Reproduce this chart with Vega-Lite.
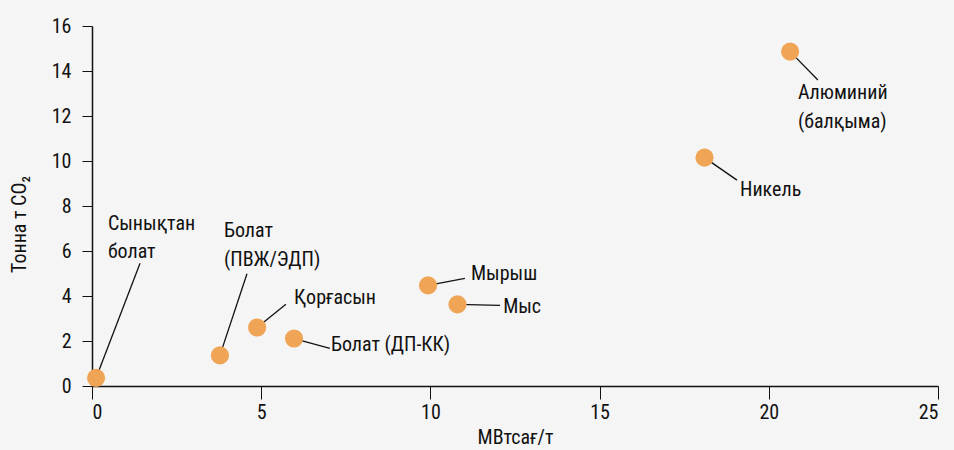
{
  "$schema": "https://vega.github.io/schema/vega-lite/v6.json",
  "width": 846,
  "height": 360,
  "autosize": {"type": "none"},
  "padding": {"left": 92, "top": 26, "right": 16, "bottom": 64},
  "background": "#f5f5f5",
  "config": {
    "view": {"stroke": null},
    "font": "Roboto Condensed, Liberation Sans Narrow, DejaVu Sans Condensed, sans-serif",
    "axis": {
      "domainColor": "#111111",
      "tickColor": "#111111",
      "labelColor": "#111111",
      "titleColor": "#111111",
      "labelFont": "Roboto Condensed, Liberation Sans Narrow, DejaVu Sans Condensed, sans-serif",
      "titleFont": "Roboto Condensed, Liberation Sans Narrow, DejaVu Sans Condensed, sans-serif",
      "labelFontSize": 20,
      "titleFontSize": 20,
      "titleFontWeight": "normal",
      "grid": false,
      "domainWidth": 1.5,
      "tickWidth": 1
    }
  },
  "data": {
    "values": [
      {"name": "Сынықтан болат", "label": ["Сынықтан", "болат"], "mwh": 0.12, "co2": 0.36, "lx": 0.47, "ly": 6.95, "ex": 1.42, "ey": 5.46},
      {"name": "Болат (ПВЖ/ЭДП)", "label": ["Болат", "(ПВЖ/ЭДП)"], "mwh": 3.78, "co2": 1.36, "lx": 3.9, "ly": 6.62, "ex": 4.58, "ey": 4.99},
      {"name": "Қорғасын", "label": ["Қорғасын"], "mwh": 4.88, "co2": 2.6, "lx": 5.97, "ly": 3.63, "ex": 5.73, "ey": 3.63},
      {"name": "Болат (ДП-КК)", "label": ["Болат (ДП-КК)"], "mwh": 5.97, "co2": 2.11, "lx": 7.06, "ly": 1.54, "ex": 7.03, "ey": 1.67},
      {"name": "Мырыш", "label": ["Мырыш"], "mwh": 9.93, "co2": 4.47, "lx": 11.2, "ly": 4.7, "ex": 11.02, "ey": 4.78},
      {"name": "Мыс", "label": ["Мыс"], "mwh": 10.8, "co2": 3.63, "lx": 12.15, "ly": 3.23, "ex": 12.06, "ey": 3.58},
      {"name": "Никель", "label": ["Никель"], "mwh": 18.1, "co2": 10.15, "lx": 19.15, "ly": 8.43, "ex": 19.06, "ey": 9.15},
      {"name": "Алюминий (балқыма)", "label": ["Алюминий", "(балқыма)"], "mwh": 20.63, "co2": 14.86, "lx": 20.86, "ly": 12.75, "ex": 21.45, "ey": 13.6}
    ]
  },
  "layer": [
    {
      "mark": {"type": "rule", "color": "#111111", "strokeWidth": 1.3},
      "encoding": {
        "x": {"field": "mwh", "type": "quantitative", "scale": {"domain": [0, 25], "nice": false, "zero": true},
          "axis": {"title": "МВтсағ/т", "values": [0, 5, 10, 15, 20, 25], "tickSize": 13, "labelPadding": 3, "titlePadding": 5}},
        "y": {"field": "co2", "type": "quantitative", "scale": {"domain": [0, 16], "nice": false},
          "axis": {"title": "Тонна т CO₂", "values": [0, 2, 4, 6, 8, 10, 12, 14, 16], "tickSize": 10, "labelPadding": 11, "titlePadding": 22, "titleY": 198}},
        "x2": {"field": "ex"},
        "y2": {"field": "ey"}
      }
    },
    {
      "mark": {"type": "circle", "size": 330, "opacity": 1, "color": "#f0a456"},
      "encoding": {
        "x": {"field": "mwh", "type": "quantitative"},
        "y": {"field": "co2", "type": "quantitative"}
      }
    },
    {
      "mark": {"type": "text", "align": "left", "baseline": "alphabetic", "fontSize": 20, "lineHeight": 28.5, "color": "#111111"},
      "encoding": {
        "x": {"field": "lx", "type": "quantitative"},
        "y": {"field": "ly", "type": "quantitative"},
        "text": {"field": "label"}
      }
    }
  ]
}
